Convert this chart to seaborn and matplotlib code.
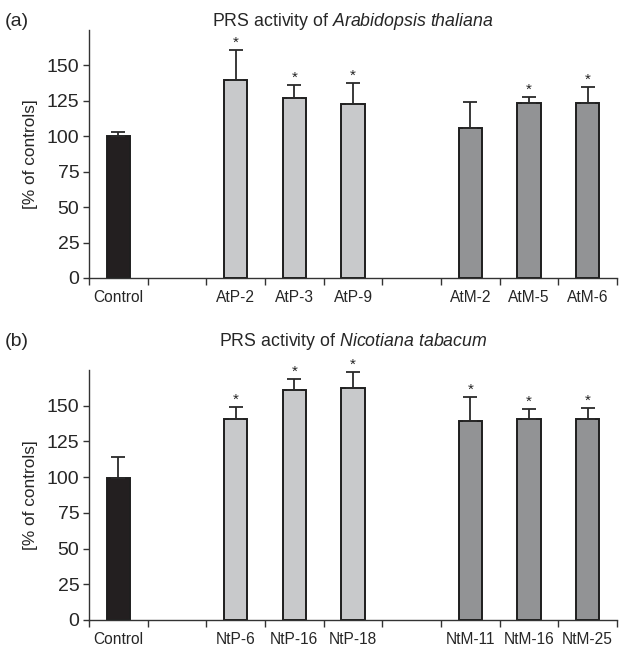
import numpy as np
import pandas as pd
import matplotlib
matplotlib.use("Agg")
import matplotlib.pyplot as plt
import seaborn as sns

sns.set_theme(style="ticks")
plt.rcParams['font.family'] = ['Liberation Sans', 'DejaVu Sans']
plt.rcParams['mathtext.fontset'] = 'custom'
plt.rcParams['mathtext.rm'] = 'Liberation Sans'
plt.rcParams['mathtext.it'] = 'Liberation Sans:italic'

# Panel (a) data
cats_a = ["Control", "AtP-2", "AtP-3", "AtP-9", "AtM-2", "AtM-5", "AtM-6"]
vals_a = [100, 139.7, 126.8, 122.8, 105.8, 123.8, 123.8]
err_a = [3.2, 21.1, 9.4, 14.6, 18.2, 3.9, 10.7]
sig_a = [False, True, True, True, False, True, True]

# Panel (b) data
cats_b = ["Control", "NtP-6", "NtP-16", "NtP-18", "NtM-11", "NtM-16", "NtM-25"]
vals_b = [99.7, 140.7, 161.1, 162.7, 139.3, 140.7, 140.7]
err_b = [14.3, 8.3, 7.7, 11.1, 16.5, 6.9, 7.6]
sig_b = [False, True, True, True, True, True, True]

groups = ["ctrl", "P", "P", "P", "M", "M", "M"]
group_colors = {"ctrl": "#231f20", "P": "#c8c9cb", "M": "#929395"}

ticks_y = [0, 25, 50, 75, 100, 125, 150]

W, H = 619, 648
fig = plt.figure(figsize=(W / 100, H / 100), dpi=100)
ax_a = fig.add_axes([89 / W, 1 - 278 / H, 528 / W, 248 / H])
ax_b = fig.add_axes([89 / W, 1 - 620 / H, 528 / W, 250 / H])


def draw(ax, cats, vals, errs, sig):
    order = [cats[0], "_gap1", cats[1], cats[2], cats[3], "_gap2", cats[4], cats[5], cats[6]]
    df = pd.DataFrame({"cat": cats, "val": vals, "grp": groups})
    pal = {c: group_colors[g] for c, g in zip(cats, groups)}
    sns.barplot(data=df, x="cat", y="val", hue="cat", order=order, palette=pal,
                width=0.4, edgecolor="#1e1e1e", linewidth=1.4, legend=False,
                saturation=1, ax=ax)
    pos = [order.index(c) for c in cats]
    ax.errorbar(pos, vals, yerr=[np.zeros(len(errs)), errs], fmt="none",
                ecolor="#2a2a2a", elinewidth=1.3, capsize=5, capthick=1.3)
    for p, v, e, s in zip(pos, vals, errs, sig):
        if s:
            ax.text(p, v + e + 0.3, "*", ha="center", va="bottom", fontsize=11,
                    color="#222222")
    ax.set_ylim(0, 175)
    ax.set_xlim(-0.5, 8.5)
    ax.set_yticks(ticks_y)
    ax.set_yticklabels([str(t) for t in ticks_y], fontsize=14)
    ax.set_xticks(np.arange(-0.5, 9, 1.0))
    ax.set_xticklabels([])
    ax.set_xticks(pos, minor=True)
    ax.set_xticklabels(cats, minor=True, fontsize=11.2)
    ax.tick_params(axis="x", which="minor", length=0, pad=9)
    ax.tick_params(axis="x", which="major", length=5, width=1, color="#333333")
    ax.tick_params(axis="y", length=4, width=1, color="#333333", pad=3)
    ax.set_xlabel("")
    ax.set_ylabel("[% of controls]", fontsize=12.4, labelpad=6)
    for sp in ["top", "right"]:
        ax.spines[sp].set_visible(False)
    for sp in ["left", "bottom"]:
        ax.spines[sp].set_color("#333333")
        ax.spines[sp].set_linewidth(1.0)


draw(ax_a, cats_a, vals_a, err_a, sig_a)
draw(ax_b, cats_b, vals_b, err_b, sig_b)

cx = (89 + 617) / 2 / W
fig.text(cx, 1 - 21 / H, r"PRS activity of $\it{Arabidopsis\ thaliana}$",
         ha="center", va="center", fontsize=12.8)
fig.text(cx, 1 - 341 / H, r"PRS activity of $\it{Nicotiana\ tabacum}$",
         ha="center", va="center", fontsize=12.8)
fig.text(5 / W, 1 - 21 / H, "(a)", ha="left", va="center", fontsize=14)
fig.text(5 / W, 1 - 342 / H, "(b)", ha="left", va="center", fontsize=14)

fig.savefig("out.png", dpi=100)
